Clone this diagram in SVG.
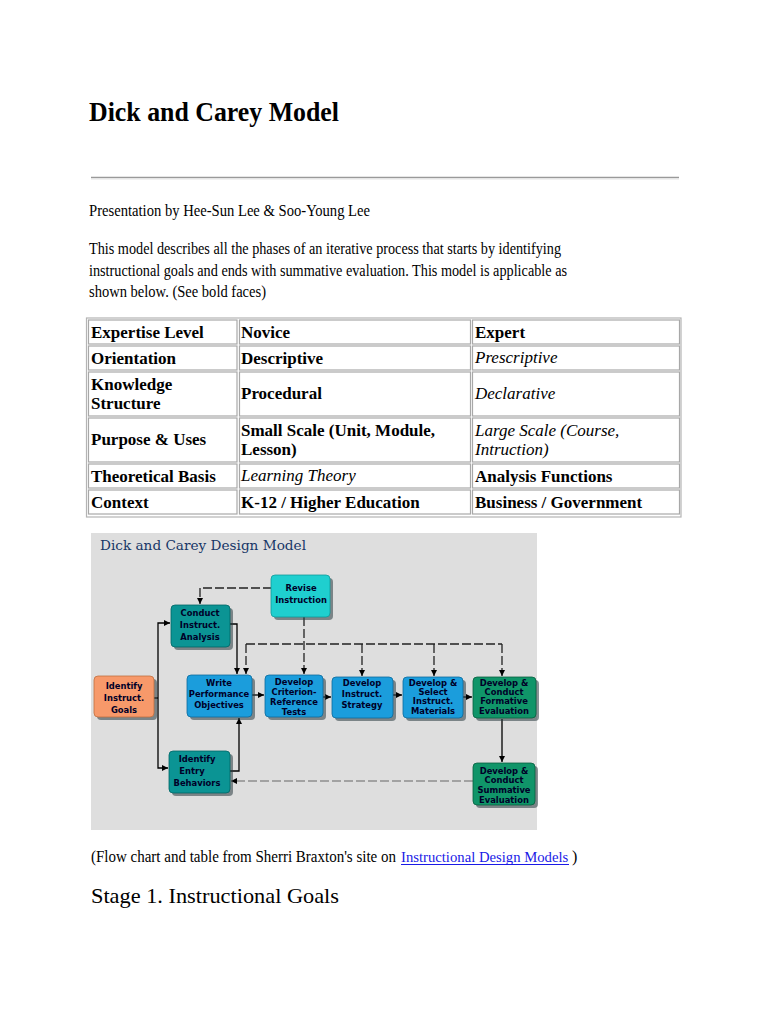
<svg xmlns="http://www.w3.org/2000/svg" width="768" height="1024" viewBox="0 0 768 1024">
<defs>
<style>
.serif{font-family:"Liberation Serif","Times New Roman",serif;fill:#000}
.tb{font-family:"Liberation Serif","Times New Roman",serif;font-size:17px;font-weight:bold;fill:#000}
.ti{font-family:"Liberation Serif","Times New Roman",serif;font-size:17px;font-style:italic;fill:#000}
.cell{fill:none;stroke:#a8a8a8;stroke-width:1.2}
.bx{font-family:"DejaVu Sans",sans-serif;font-size:8.4px;font-weight:bold;fill:#000028;text-anchor:middle}
.sh{fill:#2a3a40;opacity:0.55}
.solid{fill:none;stroke:#000;stroke-width:1.3}
.dash{fill:none;stroke:#222;stroke-width:1.3;stroke-dasharray:9 3}
.dashl{fill:none;stroke:#666;stroke-width:1.2;stroke-dasharray:9 3}
</style>
<marker id="arr" viewBox="0 0 6 6" refX="6" refY="3" markerWidth="6" markerHeight="6" markerUnits="userSpaceOnUse" orient="auto">
<path d="M0,0 L6,3 L0,6 z" fill="#000"/>
</marker>
</defs>
<rect width="768" height="1024" fill="#fff"/>

<g id="header">
<text class="serif" x="89" y="121" font-size="28" font-weight="bold" textLength="250" lengthAdjust="spacingAndGlyphs">Dick and Carey Model</text>
<line x1="91" y1="177.5" x2="679" y2="177.5" stroke="#9a9a9a" stroke-width="1.5"/>
<line x1="91" y1="179" x2="679" y2="179" stroke="#e4e4e4" stroke-width="1"/>
<text class="serif" x="89" y="216" font-size="16" textLength="281" lengthAdjust="spacingAndGlyphs">Presentation by Hee-Sun Lee &amp; Soo-Young Lee</text>
<text class="serif" x="89" y="254" font-size="16" textLength="472" lengthAdjust="spacingAndGlyphs">This model describes all the phases of an iterative process that starts by identifying</text>
<text class="serif" x="89" y="276" font-size="16" textLength="478" lengthAdjust="spacingAndGlyphs">instructional goals and ends with summative evaluation. This model is applicable as</text>
<text class="serif" x="89" y="297" font-size="16" textLength="177" lengthAdjust="spacingAndGlyphs">shown below. (See bold faces)</text>
</g>

<g id="table">
<rect x="86.5" y="318" width="594.5" height="199" fill="none" stroke="#b4b4b4" stroke-width="1.2"/>
<rect class="cell" x="88.5" y="320" width="148.5" height="24"/>
<rect class="cell" x="239.5" y="320" width="231" height="24"/>
<rect class="cell" x="472.5" y="320" width="207" height="24"/>
<rect class="cell" x="88.5" y="346" width="148.5" height="24"/>
<rect class="cell" x="239.5" y="346" width="231" height="24"/>
<rect class="cell" x="472.5" y="346" width="207" height="24"/>
<rect class="cell" x="88.5" y="372" width="148.5" height="44"/>
<rect class="cell" x="239.5" y="372" width="231" height="44"/>
<rect class="cell" x="472.5" y="372" width="207" height="44"/>
<rect class="cell" x="88.5" y="418" width="148.5" height="44"/>
<rect class="cell" x="239.5" y="418" width="231" height="44"/>
<rect class="cell" x="472.5" y="418" width="207" height="44"/>
<rect class="cell" x="88.5" y="464" width="148.5" height="24"/>
<rect class="cell" x="239.5" y="464" width="231" height="24"/>
<rect class="cell" x="472.5" y="464" width="207" height="24"/>
<rect class="cell" x="88.5" y="490" width="148.5" height="24"/>
<rect class="cell" x="239.5" y="490" width="231" height="24"/>
<rect class="cell" x="472.5" y="490" width="207" height="24"/>
<text class="tb" x="91" y="338">Expertise Level</text>
<text class="tb" x="241" y="338">Novice</text>
<text class="tb" x="475" y="338">Expert</text>
<text class="tb" x="91" y="364">Orientation</text>
<text class="tb" x="241" y="364">Descriptive</text>
<text class="ti" x="475" y="363">Prescriptive</text>
<text class="tb" x="91" y="390">Knowledge</text>
<text class="tb" x="91" y="409">Structure</text>
<text class="tb" x="241" y="399">Procedural</text>
<text class="ti" x="475" y="399">Declarative</text>
<text class="tb" x="91" y="445">Purpose &amp; Uses</text>
<text class="tb" x="241" y="436">Small Scale (Unit, Module,</text>
<text class="tb" x="241" y="455">Lesson)</text>
<text class="ti" x="475" y="436">Large Scale (Course,</text>
<text class="ti" x="475" y="455">Intruction)</text>
<text class="tb" x="91" y="482">Theoretical Basis</text>
<text class="ti" x="241" y="481">Learning Theory</text>
<text class="tb" x="475" y="482">Analysis Functions</text>
<text class="tb" x="91" y="508">Context</text>
<text class="tb" x="241" y="508">K-12 / Higher Education</text>
<text class="tb" x="475" y="508">Business / Government</text>
</g>

<g id="diagram-bg">
<rect x="91" y="533" width="446" height="297" fill="#dedede"/>
<text x="100" y="550" font-family="DejaVu Serif,serif" font-size="13.5" fill="#163667" textLength="206" lengthAdjust="spacingAndGlyphs">Dick and Carey Design Model</text>
</g>

<g id="connectors">
<path class="dash" d="M272,588 H200 V604" marker-end="url(#arr)"/>
<path class="dash" d="M304,617 V674" marker-end="url(#arr)"/>
<path class="dash" d="M246,644 H502"/>
<path class="dash" d="M246,644 V674" marker-end="url(#arr)"/>
<path class="dash" d="M362,644 V676" marker-end="url(#arr)"/>
<path class="dash" d="M434,644 V676" marker-end="url(#arr)"/>
<path class="dash" d="M502,644 V676" marker-end="url(#arr)"/>
<path class="solid" d="M230,624 H237 V674" marker-end="url(#arr)"/>
<path class="solid" d="M158,698 V623 H170" marker-end="url(#arr)"/>
<path class="solid" d="M158,698 V768 H168" marker-end="url(#arr)"/>
<path class="solid" d="M154,698 H158"/>
<path class="solid" d="M230,771 H239 V718" marker-end="url(#arr)"/>
<path class="solid" d="M252,695 H264" marker-end="url(#arr)"/>
<path class="solid" d="M323,697 H331" marker-end="url(#arr)"/>
<path class="solid" d="M393,695 H402" marker-end="url(#arr)"/>
<path class="solid" d="M463,697 H472" marker-end="url(#arr)"/>
<path class="solid" d="M502,719 V762" marker-end="url(#arr)"/>
<path class="dashl" d="M473,781 H231" marker-end="url(#arr)"/>
</g>

<g id="revise">
<rect class="sh" x="274" y="578" width="59" height="42" rx="4"/>
<rect x="271" y="575" width="59" height="42" rx="4" fill="#1fcfcf" stroke="#109a9a" stroke-width="0.8"/>
<text class="bx" x="301" y="591">Revise</text>
<text class="bx" x="301" y="603">Instruction</text>
</g>

<g id="conduct-analysis">
<rect class="sh" x="174" y="608" width="59" height="42" rx="4"/>
<rect x="171" y="605" width="59" height="42" rx="4" fill="#0b9494" stroke="#066" stroke-width="0.8"/>
<text class="bx" x="200" y="616">Conduct</text>
<text class="bx" x="200" y="628">Instruct.</text>
<text class="bx" x="200" y="640">Analysis</text>
</g>

<g id="identify-goals">
<rect class="sh" x="97" y="679" width="60" height="41" rx="4"/>
<rect x="94" y="676" width="60" height="41" rx="4" fill="#f7996a" stroke="#c07040" stroke-width="0.8"/>
<text class="bx" x="124" y="689">Identify</text>
<text class="bx" x="124" y="701">Instruct.</text>
<text class="bx" x="124" y="713">Goals</text>
</g>

<g id="write-objectives">
<rect class="sh" x="190" y="678" width="65" height="42" rx="4"/>
<rect x="187" y="675" width="65" height="42" rx="4" fill="#1b9ddc" stroke="#0c6a9c" stroke-width="0.8"/>
<text class="bx" x="219" y="686">Write</text>
<text class="bx" x="219" y="697">Performance</text>
<text class="bx" x="219" y="708">Objectives</text>
</g>

<g id="criterion-tests">
<rect class="sh" x="268" y="678" width="58" height="42" rx="4"/>
<rect x="265" y="675" width="58" height="42" rx="4" fill="#1b9ddc" stroke="#0c6a9c" stroke-width="0.8"/>
<text class="bx" x="294" y="685">Develop</text>
<text class="bx" x="294" y="695">Criterion-</text>
<text class="bx" x="294" y="705">Reference</text>
<text class="bx" x="294" y="715">Tests</text>
</g>

<g id="strategy">
<rect class="sh" x="335" y="680" width="61" height="41" rx="4"/>
<rect x="332" y="677" width="61" height="41" rx="4" fill="#1b9ddc" stroke="#0c6a9c" stroke-width="0.8"/>
<text class="bx" x="362" y="686">Develop</text>
<text class="bx" x="362" y="697">Instruct.</text>
<text class="bx" x="362" y="708">Strategy</text>
</g>

<g id="materials">
<rect class="sh" x="406" y="680" width="60" height="41" rx="4"/>
<rect x="403" y="677" width="60" height="41" rx="4" fill="#1b9ddc" stroke="#0c6a9c" stroke-width="0.8"/>
<text class="bx" x="433" y="686">Develop &amp;</text>
<text class="bx" x="433" y="695">Select</text>
<text class="bx" x="433" y="704">Instruct.</text>
<text class="bx" x="433" y="714">Materials</text>
</g>

<g id="formative">
<rect class="sh" x="476" y="680" width="63" height="41" rx="4"/>
<rect x="473" y="677" width="63" height="41" rx="4" fill="#109569" stroke="#07603f" stroke-width="0.8"/>
<text class="bx" x="504" y="686">Develop &amp;</text>
<text class="bx" x="504" y="695">Conduct</text>
<text class="bx" x="504" y="704">Formative</text>
<text class="bx" x="504" y="714">Evaluation</text>
</g>

<g id="entry-behaviors">
<rect class="sh" x="172" y="754" width="61" height="42" rx="4"/>
<rect x="169" y="751" width="61" height="42" rx="4" fill="#0b9494" stroke="#066" stroke-width="0.8"/>
<text class="bx" x="197" y="762">Identify</text>
<text class="bx" x="192" y="774">Entry</text>
<text class="bx" x="197" y="786">Behaviors</text>
</g>

<g id="summative">
<rect class="sh" x="476" y="766" width="62" height="42" rx="4"/>
<rect x="473" y="763" width="62" height="42" rx="4" fill="#109569" stroke="#07603f" stroke-width="0.8"/>
<text class="bx" x="504" y="774">Develop &amp;</text>
<text class="bx" x="504" y="783">Conduct</text>
<text class="bx" x="504" y="793">Summative</text>
<text class="bx" x="504" y="803">Evaluation</text>
</g>

<g id="footer">
<text class="serif" x="91" y="862" font-size="16" textLength="305" lengthAdjust="spacingAndGlyphs">(Flow chart and table from Sherri Braxton's site on</text>
<text class="serif" x="401" y="862" font-size="14.7" style="fill:#1a1ae6">Instructional Design Models</text>
<line x1="401" y1="864.5" x2="569" y2="864.5" stroke="#1a1ae6" stroke-width="1"/>
<text class="serif" x="572" y="862" font-size="16">)</text>
<text class="serif" x="91" y="903" font-size="22" textLength="248" lengthAdjust="spacingAndGlyphs">Stage 1. Instructional Goals</text>
</g>
</svg>
